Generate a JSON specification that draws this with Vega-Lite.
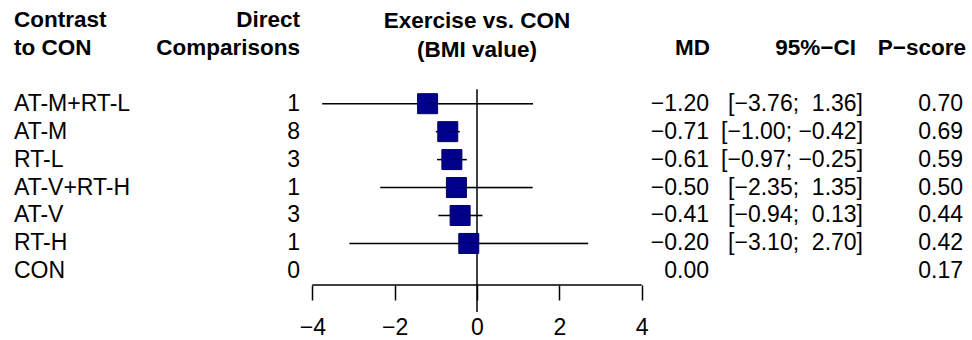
{
  "$schema": "https://vega.github.io/schema/vega-lite/v6.json",
  "width": 972,
  "height": 285,
  "padding": {"left": 0, "top": 0, "right": 0, "bottom": 55},
  "autosize": {"type": "none"},
  "background": "white",
  "config": {
    "view": {"stroke": null},
    "font": "Liberation Sans",
    "text": {"font": "Liberation Sans", "fontSize": 23, "color": "black", "baseline": "middle"},
    "axis": {"grid": false}
  },
  "datasets": {
    "rows": [
      {"contrast": "AT-M+RT-L", "n": 1, "md": -1.20, "lower": -3.76, "upper": 1.36, "ci": "[−3.76;\u00a0\u00a01.36]", "pscore": 0.70, "rank": 1},
      {"contrast": "AT-M", "n": 8, "md": -0.71, "lower": -1.00, "upper": -0.42, "ci": "[−1.00; −0.42]", "pscore": 0.69, "rank": 2},
      {"contrast": "RT-L", "n": 3, "md": -0.61, "lower": -0.97, "upper": -0.25, "ci": "[−0.97; −0.25]", "pscore": 0.59, "rank": 3},
      {"contrast": "AT-V+RT-H", "n": 1, "md": -0.50, "lower": -2.35, "upper": 1.35, "ci": "[−2.35;\u00a0\u00a01.35]", "pscore": 0.50, "rank": 4},
      {"contrast": "AT-V", "n": 3, "md": -0.41, "lower": -0.94, "upper": 0.13, "ci": "[−0.94;\u00a0\u00a00.13]", "pscore": 0.44, "rank": 5},
      {"contrast": "RT-H", "n": 1, "md": -0.20, "lower": -3.10, "upper": 2.70, "ci": "[−3.10;\u00a0\u00a02.70]", "pscore": 0.42, "rank": 6},
      {"contrast": "CON", "n": 0, "md": 0.00, "lower": null, "upper": null, "ci": "", "pscore": 0.17, "rank": 7}
    ],
    "one": [{"k": 1}]
  },
  "data": {"name": "rows"},
  "layer": [
    {
      "data": {"name": "one"},
      "mark": {"type": "rule", "color": "black", "strokeWidth": 1.5},
      "encoding": {
        "x": {"datum": 0, "type": "quantitative",
              "scale": {"domain": [-11.586, 12.023], "nice": false, "zero": false},
              "axis": {"values": [-4, -2, 0, 2, 4], "domain": false, "grid": false, "title": null,
                       "tickSize": 15, "tickColor": "black", "tickWidth": 1.5,
                       "labelFontSize": 23, "labelFont": "Liberation Sans", "labelColor": "black",
                       "labelPadding": 16, "labelFlush": false, "labelOverlap": false}},
        "y": {"datum": 0.485, "type": "quantitative",
              "scale": {"domain": [-2.710, 7.487], "nice": false, "zero": false, "reverse": true}, "axis": null},
        "y2": {"datum": 8.45}
      }
    },
    {
      "data": {"name": "one"},
      "mark": {"type": "rule", "color": "black", "strokeWidth": 1.5},
      "encoding": {
        "x": {"datum": -4, "type": "quantitative"},
        "x2": {"datum": 4},
        "y": {"datum": 7.487, "type": "quantitative"}
      }
    },
    {
      "transform": [{"filter": "datum.lower != null"}],
      "mark": {"type": "rule", "color": "black", "strokeWidth": 1.5},
      "encoding": {
        "x": {"field": "lower", "type": "quantitative"},
        "x2": {"field": "upper"},
        "y": {"field": "rank", "type": "quantitative"}
      }
    },
    {
      "transform": [{"filter": "datum.lower != null"}],
      "mark": {"type": "point", "shape": "square", "filled": true, "size": 400, "color": "#00008B", "opacity": 1, "stroke": "#000060", "strokeWidth": 1},
      "encoding": {
        "x": {"field": "md", "type": "quantitative"},
        "y": {"field": "rank", "type": "quantitative"}
      }
    },
    {
      "transform": [{"filter": "datum.lower != null"}],
      "mark": {"type": "rule", "color": "black", "strokeWidth": 1.2, "opacity": 0.5},
      "encoding": {
        "x": {"field": "md", "type": "quantitative"},
        "x2": {"field": "upper"},
        "y": {"field": "rank", "type": "quantitative"}
      }
    },
    {
      "mark": {"type": "text", "align": "left"},
      "encoding": {
        "x": {"datum": -11.246, "type": "quantitative"},
        "y": {"field": "rank", "type": "quantitative"},
        "text": {"field": "contrast"}
      }
    },
    {
      "mark": {"type": "text", "align": "right"},
      "encoding": {
        "x": {"datum": -4.299, "type": "quantitative"},
        "y": {"field": "rank", "type": "quantitative"},
        "text": {"field": "n", "type": "quantitative", "format": "d"}
      }
    },
    {
      "mark": {"type": "text", "align": "right"},
      "encoding": {
        "x": {"datum": 5.635, "type": "quantitative"},
        "y": {"field": "rank", "type": "quantitative"},
        "text": {"field": "md", "type": "quantitative", "format": ".2f"}
      }
    },
    {
      "mark": {"type": "text", "align": "right"},
      "encoding": {
        "x": {"datum": 9.376, "type": "quantitative"},
        "y": {"field": "rank", "type": "quantitative"},
        "text": {"field": "ci"}
      }
    },
    {
      "mark": {"type": "text", "align": "right"},
      "encoding": {
        "x": {"datum": 11.805, "type": "quantitative"},
        "y": {"field": "rank", "type": "quantitative"},
        "text": {"field": "pscore", "type": "quantitative", "format": ".2f"}
      }
    },
    {
      "data": {"name": "one"},
      "mark": {"type": "text", "align": "left", "fontWeight": "bold", "fontSize": 22.5, "text": ["Contrast", "to CON"], "lineHeight": 28},
      "encoding": {
        "x": {"datum": -11.246, "type": "quantitative"},
        "y": {"datum": -2, "type": "quantitative"}
      }
    },
    {
      "data": {"name": "one"},
      "mark": {"type": "text", "align": "right", "fontWeight": "bold", "fontSize": 22.5, "text": ["Direct", "Comparisons"], "lineHeight": 28},
      "encoding": {
        "x": {"datum": -4.299, "type": "quantitative"},
        "y": {"datum": -2, "type": "quantitative"}
      }
    },
    {
      "data": {"name": "one"},
      "mark": {"type": "text", "align": "center", "fontWeight": "bold", "fontSize": 22.5, "text": ["Exercise vs. CON", "(BMI value)"], "lineHeight": 29},
      "encoding": {
        "x": {"datum": 0, "type": "quantitative"},
        "y": {"datum": -1.95, "type": "quantitative"}
      }
    },
    {
      "data": {"name": "one"},
      "mark": {"type": "text", "align": "right", "fontWeight": "bold", "fontSize": 22.5, "text": "MD"},
      "encoding": {
        "x": {"datum": 5.66, "type": "quantitative"},
        "y": {"datum": -1, "type": "quantitative"}
      }
    },
    {
      "data": {"name": "one"},
      "mark": {"type": "text", "align": "right", "fontWeight": "bold", "fontSize": 22.5, "text": "95%−CI"},
      "encoding": {
        "x": {"datum": 9.206, "type": "quantitative"},
        "y": {"datum": -1, "type": "quantitative"}
      }
    },
    {
      "data": {"name": "one"},
      "mark": {"type": "text", "align": "right", "fontWeight": "bold", "fontSize": 22.5, "text": "P−score"},
      "encoding": {
        "x": {"datum": 11.877, "type": "quantitative"},
        "y": {"datum": -1, "type": "quantitative"}
      }
    }
  ]
}
